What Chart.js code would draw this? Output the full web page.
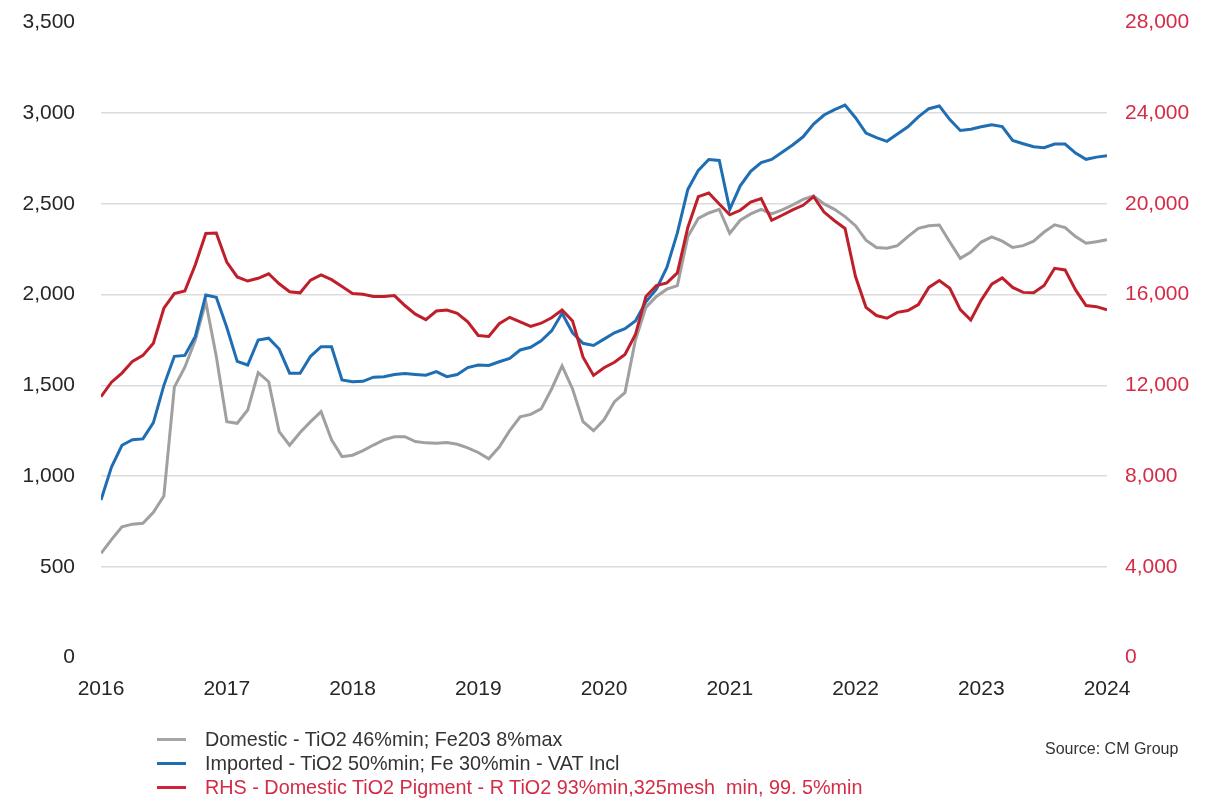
<!DOCTYPE html>
<html>
<head>
<meta charset="utf-8">
<script src="https://cdn.jsdelivr.net/npm/chart.js@4.4.1/dist/chart.umd.min.js"></script>
<style>
  html, body { margin: 0; padding: 0; background: #fff; }
  #wrap { position: relative; width: 1220px; height: 803px; }
  #chart { position: absolute; left: 0; top: 0; }
  .legend { position: absolute; left: 157px; top: 727px; font: 19.8px "Liberation Sans", Arial, sans-serif; color: #333; }
  .legend div { height: 24px; line-height: 24px; display: flex; align-items: center; white-space: nowrap; }
  .legend i { display: inline-block; width: 29px; height: 3px; margin-right: 19px; }
  .source { position: absolute; left: 1045px; top: 740px; font: 16px "Liberation Sans", Arial, sans-serif; color: #333; }
</style>
</head>
<body>
<div id="wrap">
  <canvas id="chart" width="1220" height="803"></canvas>
  <div class="legend">
    <div><i style="background:#a6a6a6"></i>Domestic - TiO2 46%min; Fe203 8%max</div>
    <div><i style="background:#1f6eb4"></i>Imported - TiO2 50%min; Fe 30%min - VAT Incl</div>
    <div style="color:#d42b47"><i style="background:#d0223c"></i>RHS - Domestic TiO2 Pigment - R TiO2 93%min,325mesh&nbsp; min, 99. 5%min</div>
  </div>
  <div class="source">Source: CM Group</div>
</div>
<script>
// monthly points, Jan 2016 .. Jan 2024
const START_YEAR = 2016;
const months = [];
for (let i = 0; i <= 96; i++) months.push(START_YEAR + i / 12);

const yearTicks = [2016, 2017, 2018, 2019, 2020, 2021, 2022, 2023, 2024];

// LHS, CNY/t
const domestic = [
  574, 650, 720, 735, 740, 800, 890, 1490, 1600, 1750, 1960, 1660,
  1300, 1291, 1364, 1570, 1520, 1245, 1170, 1240, 1300, 1355, 1200, 1107,
  1115, 1140, 1171, 1200, 1217, 1217, 1190, 1183, 1181, 1185, 1175, 1155,
  1130, 1095, 1160, 1250, 1327, 1340, 1370, 1480, 1607, 1480, 1300, 1250,
  1310, 1410, 1460, 1750, 1930, 1990, 2030, 2050, 2320, 2420, 2450, 2470,
  2338, 2410, 2445, 2470, 2445, 2467, 2494, 2525, 2544, 2500, 2470, 2430,
  2380, 2300, 2260, 2256, 2270, 2320, 2365, 2380, 2384, 2290, 2200, 2235,
  2290, 2318, 2295, 2260, 2270, 2295, 2345, 2385, 2370, 2320, 2283, 2292,
  2302
];

const imported = [
  868, 1050, 1170, 1200, 1205, 1295, 1500, 1660, 1665, 1770, 1998, 1985,
  1820, 1632, 1612, 1750, 1760, 1700, 1567, 1567, 1660, 1713, 1713, 1530,
  1520, 1522, 1545, 1548, 1560, 1565, 1560, 1556, 1576, 1548, 1560, 1598,
  1612, 1610, 1630, 1649, 1695, 1710, 1745, 1800, 1897, 1790, 1732, 1720,
  1755, 1790, 1812, 1855, 1960, 2030, 2150, 2340, 2580, 2685, 2745, 2740,
  2470, 2600, 2680, 2728, 2745, 2785, 2825, 2870, 2940, 2990, 3020, 3045,
  2975, 2890, 2865, 2845, 2885, 2925, 2980, 3025, 3040, 2965, 2905, 2912,
  2925, 2936, 2926, 2850, 2832, 2815, 2810, 2830, 2830, 2780, 2746, 2758,
  2765
];

// RHS, CNY/t
const pigment = [
  11500, 12140, 12540, 13060, 13320, 13860, 15400, 16050, 16160, 17320, 18700, 18720,
  17440, 16780, 16600, 16720, 16920, 16480, 16130, 16080, 16640, 16870, 16660, 16360,
  16050, 16020, 15920, 15920, 15960, 15520, 15140, 14900, 15280, 15320, 15180, 14800,
  14200, 14160, 14720, 15000, 14800, 14600, 14740, 14980, 15320, 14840, 13240, 12440,
  12780, 13020, 13360, 14240, 15920, 16400, 16520, 16960, 18960, 20320, 20480, 20000,
  19520, 19720, 20080, 20240, 19280, 19500, 19740, 19940, 20320, 19640, 19260, 18920,
  16800, 15440, 15080, 14960, 15220, 15300, 15560, 16320, 16620, 16280, 15340, 14880,
  15760, 16460, 16740, 16320, 16100, 16080, 16400, 17160, 17090, 16210, 15520, 15470,
  15330
];

const toPoints = (vals) => vals.map((v, i) => ({ x: months[i], y: v }));

const tickFont = { family: "'Liberation Sans', Arial, sans-serif", size: 21 };

new Chart(document.getElementById("chart"), {
  type: "line",
  data: {
    datasets: [
      {
        label: "Domestic - TiO2 46%min; Fe203 8%max",
        data: toPoints(domestic),
        borderColor: "#a0a0a0",
        borderWidth: 3,
        pointRadius: 0,
        pointHoverRadius: 0,
        yAxisID: "y",
        order: 3,
      },
      {
        label: "Imported - TiO2 50%min; Fe 30%min - VAT Incl",
        data: toPoints(imported),
        borderColor: "#1f6eb4",
        borderWidth: 3,
        pointRadius: 0,
        pointHoverRadius: 0,
        yAxisID: "y",
        order: 2,
      },
      {
        label: "RHS - Domestic TiO2 Pigment - R TiO2 93%min,325mesh min, 99. 5%min",
        data: toPoints(pigment),
        borderColor: "#bf1f2b",
        borderWidth: 3,
        pointRadius: 0,
        pointHoverRadius: 0,
        yAxisID: "y1",
        order: 1,
      },
    ],
  },
  options: {
    responsive: false,
    animation: false,
    layout: { padding: { top: 22.5, left: 0, right: 0, bottom: 0 } },
    plugins: { legend: { display: false }, tooltip: { enabled: false } },
    scales: {
      x: {
        type: "linear",
        min: 2016,
        max: 2024,
        afterBuildTicks: (scale) => { scale.ticks = yearTicks.map((v) => ({ value: v })); },
        afterFit: (scale) => { scale.height = 145.5; },
        ticks: { color: "#262626", font: tickFont, padding: 19, maxRotation: 0, callback: (v) => String(v) },
        grid: { display: false, drawTicks: false },
        border: { display: false },
      },
      y: {
        position: "left",
        min: 0,
        max: 3500,
        afterFit: (scale) => { scale.width = 101; },
        ticks: { stepSize: 500, color: "#262626", font: tickFont, padding: 0, callback: (v) => v.toLocaleString("en-US") },
        grid: {
          drawTicks: true,
          tickLength: 26,
          tickColor: "rgba(0,0,0,0)",
          lineWidth: 1.5,
          color: (ctx) => (ctx.tick.value === 0 || ctx.tick.value === 3500 ? "rgba(0,0,0,0)" : "#dcdcdc"),
        },
        border: { display: false },
      },
      y1: {
        position: "right",
        min: 0,
        max: 28000,
        afterFit: (scale) => { scale.width = 113; },
        ticks: { stepSize: 4000, color: "#d42b47", font: tickFont, padding: 0, callback: (v) => v.toLocaleString("en-US") },
        grid: { display: false, drawTicks: true, tickLength: 18, tickColor: "rgba(0,0,0,0)" },
        border: { display: false },
      },
    },
  },
});
</script>
</body>
</html>
